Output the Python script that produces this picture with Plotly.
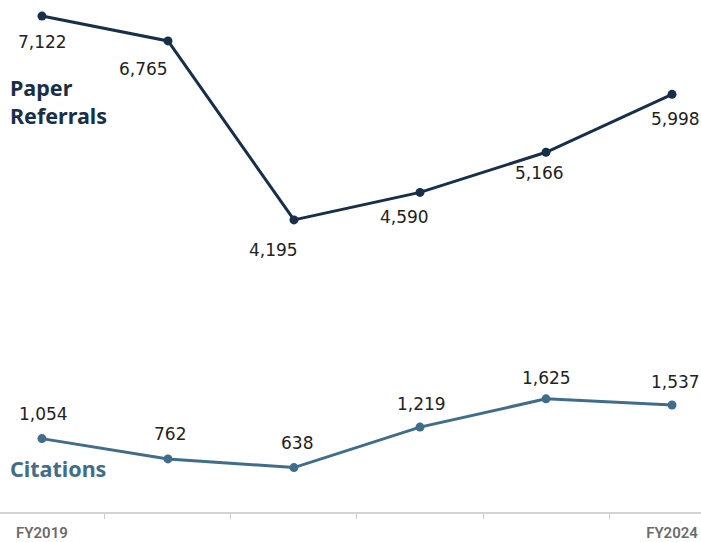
import plotly.graph_objects as go

years = ["FY2019", "FY2020", "FY2021", "FY2022", "FY2023", "FY2024"]
tick_text = ["FY2019", "", "", "", "", "FY2024"]
paper_referrals = [7122, 6765, 4195, 4590, 5166, 5998]
citations = [1054, 762, 638, 1219, 1625, 1537]

NAVY = "#172f48"
STEEL = "#3f6d8a"
LABEL_FONT = dict(family="DejaVu Sans, sans-serif", size=17, color="#222222")
SERIES_FONT = "Noto Sans, Open Sans, sans-serif"

# pixel offsets for the value labels (x, y)
ref_offsets = [(1, -26), (-24, -28), (-20, -30), (-16, -25), (-7, -21), (3, -25)]
cit_offsets = [(2, 25), (2, 25), (3, 25), (1, 23), (0, 21), (3, 23)]

fig = go.Figure()
fig.add_trace(go.Scatter(
    x=years, y=paper_referrals, mode="lines+markers",
    line=dict(color=NAVY, width=3), marker=dict(color=NAVY, size=9),
    cliponaxis=False, hoverinfo="skip", showlegend=False,
))
fig.add_trace(go.Scatter(
    x=years, y=citations, mode="lines+markers",
    line=dict(color=STEEL, width=3), marker=dict(color=STEEL, size=9),
    cliponaxis=False, hoverinfo="skip", showlegend=False,
))

for yr, v, (dx, dy) in zip(years, paper_referrals, ref_offsets):
    fig.add_annotation(x=yr, y=v, text=f"{v:,}", showarrow=False,
                       xshift=dx, yshift=dy, font=LABEL_FONT)
for yr, v, (dx, dy) in zip(years, citations, cit_offsets):
    fig.add_annotation(x=yr, y=v, text=f"{v:,}", showarrow=False,
                       xshift=dx, yshift=dy, font=LABEL_FONT)

fig.add_annotation(xref="paper", yref="paper", x=0.012, y=0.802,
                   xanchor="left", yanchor="middle", align="left",
                   text="<b>Paper<br>Referrals</b>", showarrow=False,
                   font=dict(family=SERIES_FONT, size=21.5, color=NAVY))
fig.add_annotation(xref="paper", yref="paper", x=0.012, y=0.085,
                   xanchor="left", yanchor="middle", align="left",
                   text="<b>Citations</b>", showarrow=False,
                   font=dict(family=SERIES_FONT, size=21.5, color=STEEL))

fig.update_layout(
    width=701, height=542,
    margin=dict(l=0, r=0, t=0, b=25),
    paper_bgcolor="white", plot_bgcolor="white",
    xaxis=dict(
        type="category", range=[-0.333, 5.23],
        tickmode="array", tickvals=years, ticktext=tick_text,
        tickson="boundaries", ticks="outside", ticklen=5, tickcolor="#cccccc",
        ticklabelstandoff=6,
        showline=True, linecolor="#d4d4d4", linewidth=2,
        showgrid=False, zeroline=False,
        tickfont=dict(family="Roboto, sans-serif", size=15, color="#6b6b6b", weight=600),
    ),
    yaxis=dict(range=[0, 7353], visible=False, showgrid=False, zeroline=False),
)

fig.write_html("out.html")
